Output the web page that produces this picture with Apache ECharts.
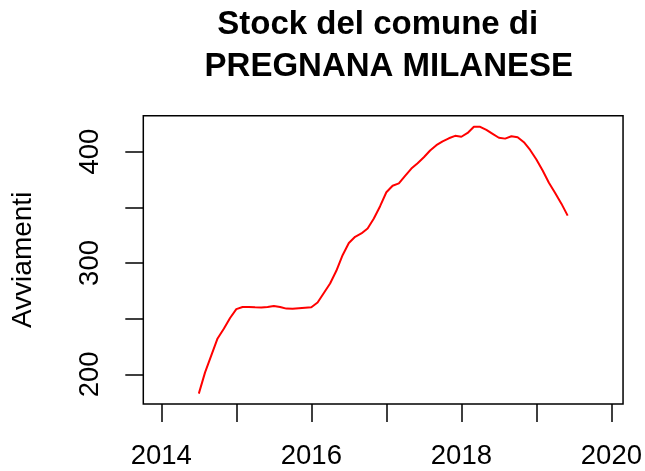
<!DOCTYPE html>
<html>
<head>
<meta charset="utf-8">
<script src="https://cdn.jsdelivr.net/npm/echarts@6/dist/echarts.min.js"></script>
<style>
html,body{margin:0;padding:0;background:#fff;}
#c{width:645px;height:471px;}
</style>
</head>
<body>
<div id="c"></div>
<script>
var titleLine1 = 'Stock del comune di';
var titleLine2 = 'PREGNANA MILANESE';
var yName = 'Avviamenti';
var months = [
 '2014-07','2014-08','2014-09','2014-10','2014-11','2014-12',
 '2015-01','2015-02','2015-03','2015-04','2015-05','2015-06','2015-07','2015-08','2015-09','2015-10','2015-11','2015-12',
 '2016-01','2016-02','2016-03','2016-04','2016-05','2016-06','2016-07','2016-08','2016-09','2016-10','2016-11','2016-12',
 '2017-01','2017-02','2017-03','2017-04','2017-05','2017-06','2017-07','2017-08','2017-09','2017-10','2017-11','2017-12',
 '2018-01','2018-02','2018-03','2018-04','2018-05','2018-06','2018-07','2018-08','2018-09','2018-10','2018-11','2018-12',
 '2019-01','2019-02','2019-03','2019-04','2019-05','2019-06'
];
var stock = [
 182.6, 201.7, 217, 232.2, 240.9, 250.6,
 258.5, 260.5, 260.5, 260.2, 260, 260.5, 261.4, 260.5, 259, 258.8, 259.3, 259.8,
 260.2, 264.5, 273, 281.5, 293, 307, 318, 323.5, 326.5, 331, 340, 351,
 363.5, 369.4, 371.5, 378.3, 384.8, 389.6, 395, 401, 405.8, 409.3, 412, 414.2,
 413.4, 416.8, 422.4, 422.3, 419.5, 416, 412.5, 411.7, 413.8, 413, 408.5, 401.5,
 393, 383, 372, 362.8, 353.3, 342.5
];
var xTicks = [2014, 2015, 2016, 2017, 2018, 2019, 2020];
var xLabels = [2014, 2016, 2018, 2020];
var yTicks = [200, 250, 300, 350, 400];
var yLabels = [200, 300, 400];

function toYear(m){ var p = m.split('-'); return +p[0] + (+p[1] - 1) / 12; }
var seriesData = months.map(function(m, i){ return [toYear(m), stock[i]]; });

var FONT = '"Liberation Sans", Arial, Helvetica, sans-serif';
var chart = echarts.init(document.getElementById('c'), null, {renderer: 'canvas'});
chart.setOption({
  animation: false,
  backgroundColor: '#ffffff',
  grid: {left: 143.3, right: 21.7, top: 115.7, bottom: 67, show: true,
         borderColor: '#000', borderWidth: 1.5, backgroundColor: 'transparent', containLabel: false},
  graphic: [
    {type: 'text', x: 377.7, y: 25, style: {text: titleLine1, font: 'bold 33px ' + FONT, fill: '#000', textAlign: 'center', textVerticalAlign: 'middle'}},
    {type: 'text', x: 388.8, y: 67.3, style: {text: titleLine2, font: 'bold 33px ' + FONT, fill: '#000', textAlign: 'center', textVerticalAlign: 'middle'}}
  ],
  xAxis: {
    type: 'value', min: 2013.76, max: 2020.155,
    splitLine: {show: false},
    axisLine: {show: false},
    axisTick: {show: true, inside: false, length: 18, customValues: xTicks, lineStyle: {color: '#000', width: 1.5}},
    axisLabel: {show: true, margin: 39, customValues: xLabels, color: '#000', fontSize: 27.5, fontFamily: FONT, lineHeight: 27.5,
                formatter: function(v){ return String(v); }}
  },
  yAxis: {
    type: 'value', min: 173.3, max: 432.3,
    name: yName, nameLocation: 'middle', nameRotate: 90, nameGap: 105.8,
    nameTextStyle: {color: '#000', fontSize: 28, fontFamily: FONT, lineHeight: 28},
    splitLine: {show: false},
    axisLine: {show: false},
    axisTick: {show: true, inside: false, length: 18, customValues: yTicks, lineStyle: {color: '#000', width: 1.5}},
    axisLabel: {show: true, rotate: 90, margin: 39.2, customValues: yLabels, color: '#000', fontSize: 27.5, fontFamily: FONT, lineHeight: 27.5,
                formatter: function(v){ return String(v); }}
  },
  series: [{
    type: 'line', data: seriesData, showSymbol: false, symbol: 'none',
    lineStyle: {color: '#ff0000', width: 2}, smooth: false
  }]
});
</script>
</body>
</html>
